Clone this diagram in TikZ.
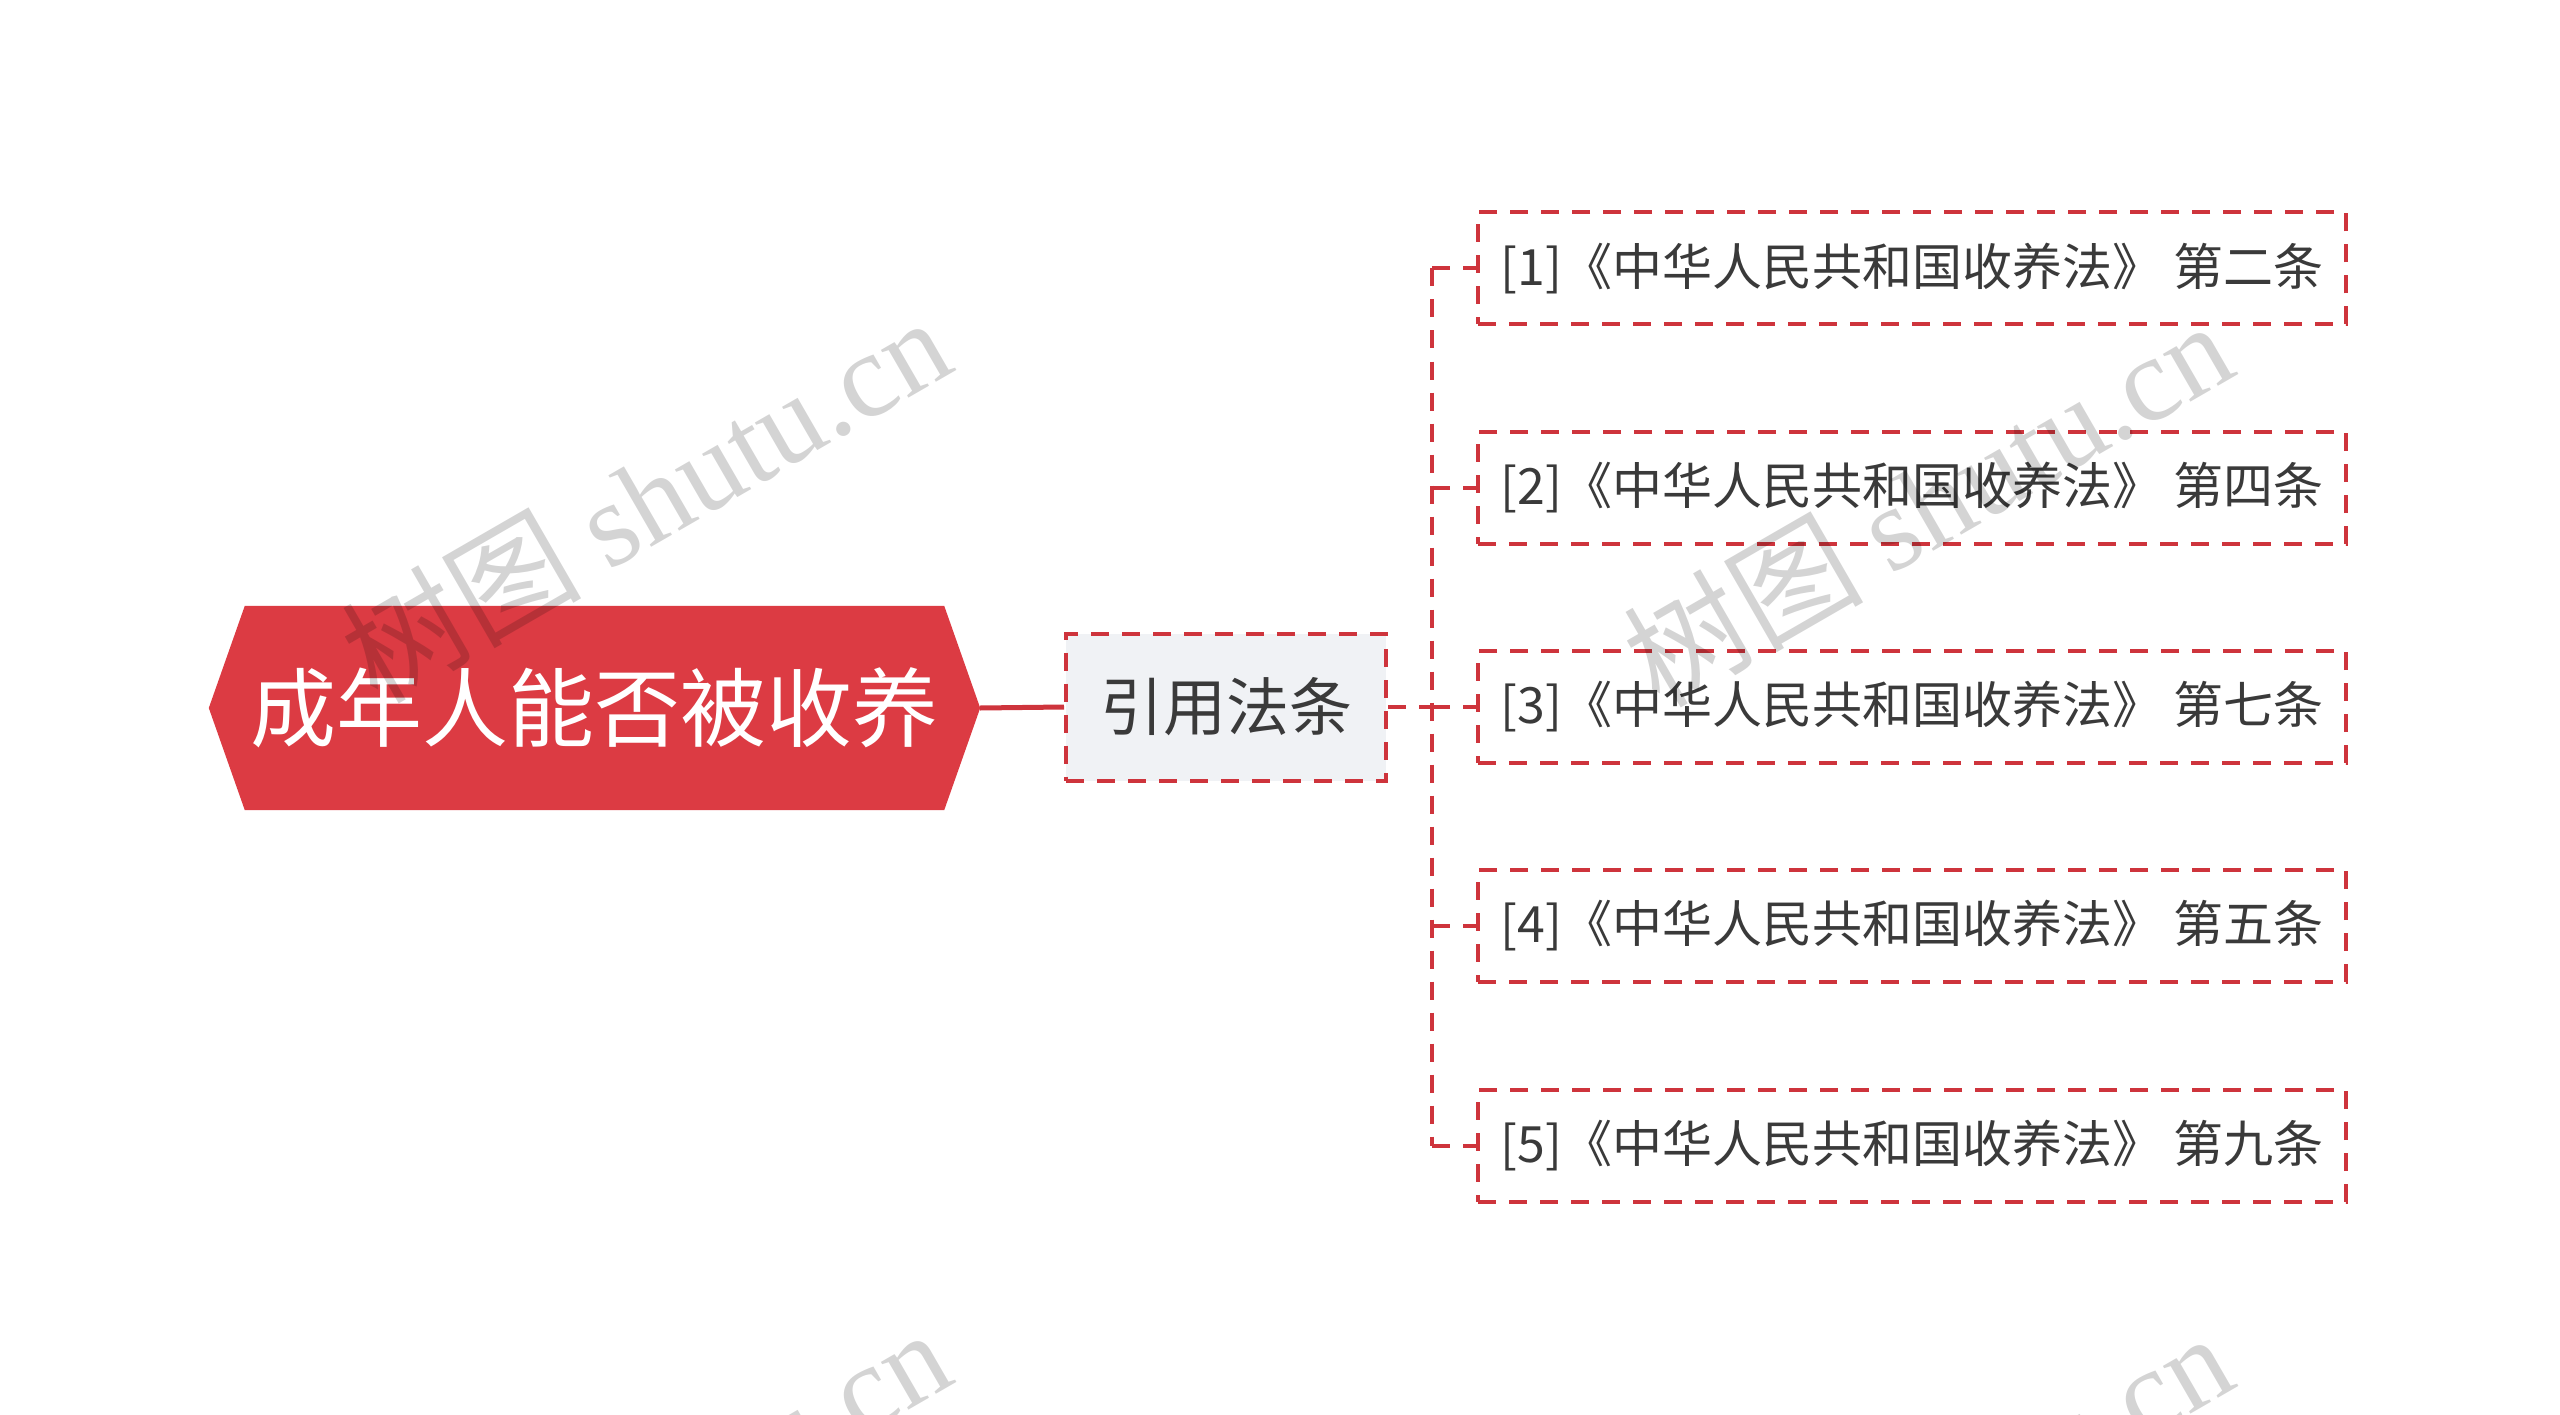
\documentclass[tikz,border=0pt]{standalone}
\usepackage{fontspec}
\setmainfont{Noto Sans CJK SC}
\newfontfamily\wmserif{Liberation Serif}
\newfontfamily\wmcjk{Noto Sans CJK SC}
\usetikzlibrary{calc,backgrounds}
\definecolor{rootred}{RGB}{220,59,67}
\definecolor{linered}{RGB}{206,52,60}
\definecolor{midfill}{RGB}{240,242,245}
\definecolor{txt}{RGB}{58,58,58}
\begin{document}
\begin{tikzpicture}[x=1pt,y=-1pt,
  dashline/.style={draw=linered, line width=4pt, dash pattern=on 18pt off 13pt},
  conn/.style={dashline},
  rootnode/.style={minimum width=699pt, minimum height=204pt, inner sep=0pt,
    text=white, font=\fontsize{86pt}{102pt}\selectfont},
  midnode/.style={dashline, fill=midfill, minimum width=320pt, minimum height=147pt,
    inner sep=0pt, text=txt, font=\fontsize{63pt}{76pt}\selectfont},
  leafbox/.style={dashline, fill=white, minimum width=868pt, minimum height=112pt,
    inner sep=0pt, text=txt, font=\fontsize{50pt}{60pt}\selectfont},
  watermark/.style={rotate=30, text=black, text opacity=0.17,
    font=\fontsize{120pt}{140pt}\selectfont}
]
\useasboundingbox (0,0) rectangle (2560,1415);

% root
\node[rootnode] (root) at (594.5,708) {成年人能否被收养};
\coordinate (roottip) at ($(root.east)+(36,0)$);
\coordinate (rootback) at ($(root.west)+(-36,0)$);
\begin{scope}[on background layer]
  \fill[rootred] (root.north west) -- (root.north east) -- (roottip)
    -- (root.south east) -- (root.south west) -- (rootback) -- cycle;
\end{scope}

% middle
\node[midnode] (mid) at (1226,707) {引用法条};
\draw[linered, line width=5pt] (roottip) -- (mid.west);

% leaves
\node[leafbox] (l1) at (1912,268.5) {[1]《中华人民共和国收养法》 第二条};
\node[leafbox] (l2) at (1912,488) {[2]《中华人民共和国收养法》 第四条};
\node[leafbox] (l3) at (1912,707) {[3]《中华人民共和国收养法》 第七条};
\node[leafbox] (l4) at (1912,926) {[4]《中华人民共和国收养法》 第五条};
\node[leafbox] (l5) at (1912,1146) {[5]《中华人民共和国收养法》 第九条};

% trunk
\coordinate (tm) at (1432,707);
\coordinate (t1) at (1432,268.5);
\coordinate (t5) at (1432,1146);
\draw[conn] (mid.east) -- (tm);
\draw[conn] (t1) -- (t5);
\foreach \n in {l1,l2,l3,l4,l5}{
  \draw[conn] (\n.west -| tm) -- (\n.west);
}

% watermarks
\node[watermark] (wm1) at (645,498) {{\wmcjk 树图} {\wmserif shutu.cn}};
\node[watermark] (wm2) at (1927,502) {{\wmcjk 树图} {\wmserif shutu.cn}};
\node[watermark] (wm3) at (645,1510) {{\wmcjk 树图} {\wmserif shutu.cn}};
\node[watermark] (wm4) at (1927,1514) {{\wmcjk 树图} {\wmserif shutu.cn}};
\end{tikzpicture}
\end{document}
